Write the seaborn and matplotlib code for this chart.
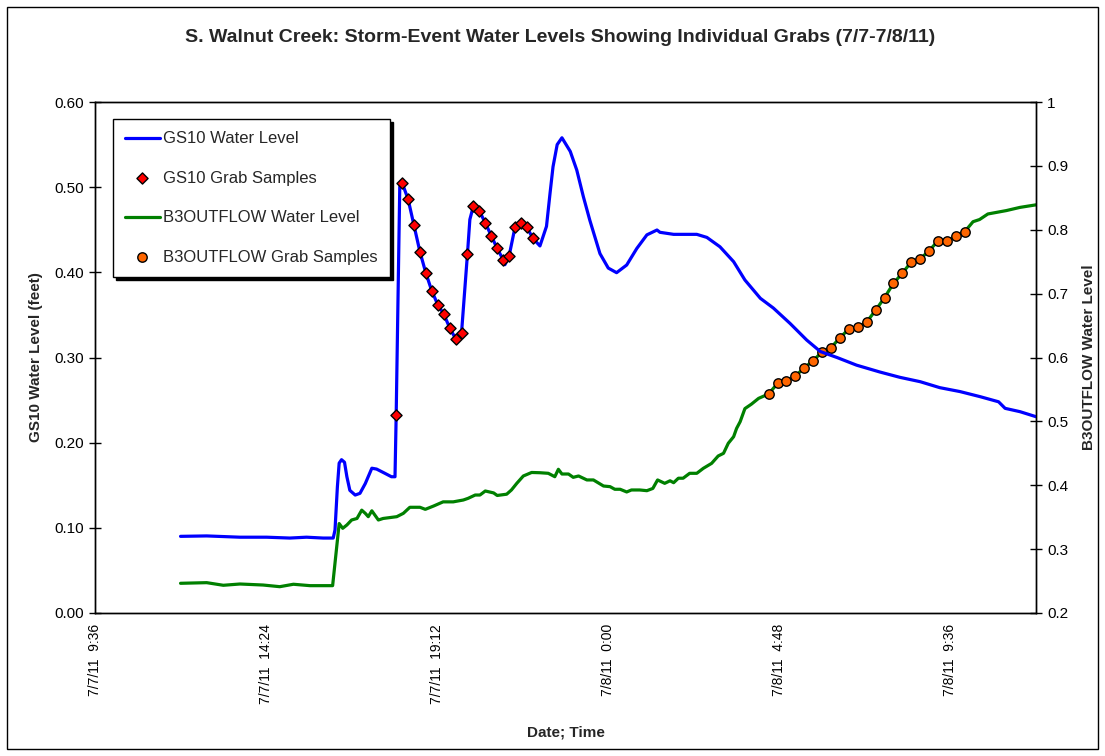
import matplotlib
matplotlib.use("Agg")
import matplotlib.pyplot as plt
from matplotlib.patches import Rectangle
import pandas as pd
import seaborn as sns

sns.set_style("white")
plt.rcParams["font.family"] = ["Liberation Sans", "DejaVu Sans"]

# ---------------- data ----------------
# GS10 continuous water level (feet)
gs10_time = [
    "2011-07-07 12:00", "2011-07-07 12:44", "2011-07-07 13:40", "2011-07-07 14:25",
    "2011-07-07 15:04", "2011-07-07 15:32", "2011-07-07 16:00", "2011-07-07 16:17",
    "2011-07-07 16:20", "2011-07-07 16:24", "2011-07-07 16:27", "2011-07-07 16:31",
    "2011-07-07 16:36", "2011-07-07 16:40", "2011-07-07 16:45", "2011-07-07 16:54",
    "2011-07-07 17:02", "2011-07-07 17:11", "2011-07-07 17:22", "2011-07-07 17:30",
    "2011-07-07 17:44", "2011-07-07 17:55", "2011-07-07 18:01", "2011-07-07 18:03",
    "2011-07-07 18:09", "2011-07-07 18:11", "2011-07-07 18:13", "2011-07-07 18:23",
    "2011-07-07 18:33", "2011-07-07 18:43", "2011-07-07 18:53", "2011-07-07 19:03",
    "2011-07-07 19:13", "2011-07-07 19:23", "2011-07-07 19:33", "2011-07-07 19:43",
    "2011-07-07 19:53", "2011-07-07 20:03", "2011-07-07 20:07", "2011-07-07 20:13",
    "2011-07-07 20:23", "2011-07-07 20:33", "2011-07-07 20:43", "2011-07-07 20:53",
    "2011-07-07 21:03", "2011-07-07 21:06", "2011-07-07 21:13", "2011-07-07 21:23",
    "2011-07-07 21:33", "2011-07-07 21:43", "2011-07-07 21:53", "2011-07-07 22:05",
    "2011-07-07 22:16", "2011-07-07 22:22", "2011-07-07 22:27", "2011-07-07 22:34",
    "2011-07-07 22:42", "2011-07-07 22:56", "2011-07-07 23:07", "2011-07-07 23:18",
    "2011-07-07 23:29", "2011-07-07 23:46", "2011-07-08 00:00", "2011-07-08 00:14",
    "2011-07-08 00:31", "2011-07-08 00:48", "2011-07-08 01:05", "2011-07-08 01:22",
    "2011-07-08 01:27", "2011-07-08 01:50", "2011-07-08 02:29", "2011-07-08 02:46",
    "2011-07-08 03:08", "2011-07-08 03:31", "2011-07-08 03:50", "2011-07-08 04:16",
    "2011-07-08 04:38", "2011-07-08 05:06", "2011-07-08 05:34", "2011-07-08 05:57",
    "2011-07-08 06:25", "2011-07-08 06:58", "2011-07-08 07:37", "2011-07-08 08:11",
    "2011-07-08 08:45", "2011-07-08 09:18", "2011-07-08 09:52", "2011-07-08 10:26",
    "2011-07-08 10:57", "2011-07-08 11:08", "2011-07-08 11:33", "2011-07-08 12:00",
]
gs10_level = [
    0.090, 0.0905, 0.089, 0.089,
    0.088, 0.089, 0.088, 0.088,
    0.0975, 0.148, 0.176, 0.180,
    0.177, 0.160, 0.144, 0.1385,
    0.1405, 0.152, 0.170, 0.169,
    0.164, 0.160, 0.160, 0.233,
    0.500, 0.507, 0.505, 0.486,
    0.455, 0.424, 0.399, 0.378,
    0.362, 0.351, 0.335, 0.322,
    0.329, 0.422, 0.462, 0.478,
    0.472, 0.458, 0.443, 0.428,
    0.415, 0.409, 0.419, 0.453,
    0.4575, 0.453, 0.440, 0.431,
    0.454, 0.493, 0.524, 0.550,
    0.558, 0.542, 0.520, 0.489,
    0.461, 0.422, 0.405, 0.3996,
    0.4086, 0.428, 0.444, 0.4497,
    0.447, 0.4446, 0.4446, 0.441,
    0.430, 0.4125, 0.391, 0.3695,
    0.358, 0.340, 0.3205, 0.307,
    0.300, 0.291, 0.283, 0.2767,
    0.2716, 0.2646, 0.260, 0.254,
    0.248, 0.2403, 0.2364, 0.2305,
]

# GS10 individual grab samples (10-minute interval)
gs10_grab_time = [
    "2011-07-07 18:03", "2011-07-07 18:13", "2011-07-07 18:23", "2011-07-07 18:33",
    "2011-07-07 18:43", "2011-07-07 18:53", "2011-07-07 19:03", "2011-07-07 19:13",
    "2011-07-07 19:23", "2011-07-07 19:33", "2011-07-07 19:43", "2011-07-07 19:53",
    "2011-07-07 20:03", "2011-07-07 20:13", "2011-07-07 20:23", "2011-07-07 20:33",
    "2011-07-07 20:43", "2011-07-07 20:53", "2011-07-07 21:03", "2011-07-07 21:13",
    "2011-07-07 21:23", "2011-07-07 21:33", "2011-07-07 21:43", "2011-07-07 21:53",
]
gs10_grab_level = [
    0.233, 0.505, 0.486, 0.455, 0.424, 0.399, 0.378, 0.362,
    0.351, 0.335, 0.322, 0.329, 0.422, 0.478, 0.472, 0.458,
    0.443, 0.428, 0.415, 0.419, 0.453, 0.4575, 0.453, 0.440,
]

# B3OUTFLOW continuous water level, before and after the grab-sample run
b3_time_before = [
    "2011-07-07 12:00", "2011-07-07 12:44", "2011-07-07 13:12", "2011-07-07 13:40",
    "2011-07-07 14:19", "2011-07-07 14:47", "2011-07-07 15:10", "2011-07-07 15:38",
    "2011-07-07 16:16", "2011-07-07 16:27", "2011-07-07 16:33", "2011-07-07 16:40",
    "2011-07-07 16:48", "2011-07-07 16:57", "2011-07-07 17:05", "2011-07-07 17:11",
    "2011-07-07 17:16", "2011-07-07 17:22", "2011-07-07 17:33", "2011-07-07 17:41",
    "2011-07-07 18:04", "2011-07-07 18:15", "2011-07-07 18:26", "2011-07-07 18:43",
    "2011-07-07 18:52", "2011-07-07 19:06", "2011-07-07 19:22", "2011-07-07 19:39",
    "2011-07-07 19:56", "2011-07-07 20:04", "2011-07-07 20:16", "2011-07-07 20:24",
    "2011-07-07 20:33", "2011-07-07 20:47", "2011-07-07 20:53", "2011-07-07 21:09",
    "2011-07-07 21:17", "2011-07-07 21:26", "2011-07-07 21:37", "2011-07-07 21:51",
    "2011-07-07 22:05", "2011-07-07 22:19", "2011-07-07 22:30", "2011-07-07 22:36",
    "2011-07-07 22:42", "2011-07-07 22:53", "2011-07-07 23:01", "2011-07-07 23:10",
    "2011-07-07 23:24", "2011-07-07 23:35", "2011-07-07 23:52", "2011-07-08 00:03",
    "2011-07-08 00:11", "2011-07-08 00:20", "2011-07-08 00:31", "2011-07-08 00:39",
    "2011-07-08 00:53", "2011-07-08 01:05", "2011-07-08 01:15", "2011-07-08 01:23",
    "2011-07-08 01:35", "2011-07-08 01:44", "2011-07-08 01:50", "2011-07-08 01:58",
    "2011-07-08 02:06", "2011-07-08 02:17", "2011-07-08 02:29", "2011-07-08 02:40",
    "2011-07-08 02:54", "2011-07-08 03:05", "2011-07-08 03:14", "2011-07-08 03:22",
    "2011-07-08 03:31", "2011-07-08 03:36", "2011-07-08 03:42", "2011-07-08 03:50",
    "2011-07-08 04:01", "2011-07-08 04:13",
]
b3_level_before = [
    0.2465, 0.2475, 0.2434, 0.2454,
    0.2438, 0.2412, 0.245, 0.2428,
    0.2428, 0.340, 0.3326, 0.3378,
    0.3456, 0.348, 0.361, 0.356,
    0.3508, 0.360, 0.3456, 0.348,
    0.3508, 0.356, 0.3655, 0.3655,
    0.3623, 0.3675, 0.374, 0.374,
    0.3769, 0.3795, 0.3847, 0.3847,
    0.391, 0.388, 0.384, 0.386,
    0.3926, 0.403, 0.4145, 0.420,
    0.4196, 0.4187, 0.4134, 0.425,
    0.4176, 0.4176, 0.4124, 0.4145,
    0.4083, 0.4083, 0.3988, 0.3978,
    0.3937, 0.3937, 0.3895, 0.3926,
    0.3926, 0.3915, 0.395, 0.4083,
    0.403, 0.407, 0.404, 0.411,
    0.411, 0.4187, 0.4187, 0.4265,
    0.4343, 0.4458, 0.450, 0.4657,
    0.476, 0.489, 0.4995, 0.520,
    0.527, 0.536,
]
b3_time_after = [
    "2011-07-08 10:14", "2011-07-08 10:25", "2011-07-08 10:39",
    "2011-07-08 11:10", "2011-07-08 11:33", "2011-07-08 12:00",
]
b3_level_after = [0.8126, 0.816, 0.8247, 0.830, 0.835, 0.839]

# B3OUTFLOW individual grab samples (15-minute interval)
b3_grab_time = [
    "2011-07-08 04:30", "2011-07-08 04:45", "2011-07-08 05:00", "2011-07-08 05:15",
    "2011-07-08 05:30", "2011-07-08 05:45", "2011-07-08 06:00", "2011-07-08 06:15",
    "2011-07-08 06:30", "2011-07-08 06:45", "2011-07-08 07:00", "2011-07-08 07:15",
    "2011-07-08 07:30", "2011-07-08 07:45", "2011-07-08 08:00", "2011-07-08 08:15",
    "2011-07-08 08:30", "2011-07-08 08:45", "2011-07-08 09:00", "2011-07-08 09:15",
    "2011-07-08 09:30", "2011-07-08 09:45", "2011-07-08 10:00",
]
b3_grab_level = [
    0.543, 0.5596, 0.5637, 0.571, 0.584, 0.595, 0.609, 0.6154,
    0.631, 0.6446, 0.6473, 0.6556, 0.674, 0.6937, 0.716, 0.732,
    0.7495, 0.7547, 0.7667, 0.783, 0.7824, 0.790, 0.797,
]

# axis ticks
x_tick_times = [
    "2011-07-07 09:36", "2011-07-07 14:24", "2011-07-07 19:12",
    "2011-07-08 00:00", "2011-07-08 04:48", "2011-07-08 09:36",
]
x_tick_labels = [
    "7/7/11  9:36", "7/7/11  14:24", "7/7/11  19:12",
    "7/8/11  0:00", "7/8/11  4:48", "7/8/11  9:36",
]
x_limits = ["2011-07-07 09:36", "2011-07-08 12:00"]
left_ticks = [0.0, 0.1, 0.2, 0.3, 0.4, 0.5, 0.6]
left_tick_labels = ["0.00", "0.10", "0.20", "0.30", "0.40", "0.50", "0.60"]
right_ticks = [0.2, 0.3, 0.4, 0.5, 0.6, 0.7, 0.8, 0.9, 1.0]
right_tick_labels = ["0.2", "0.3", "0.4", "0.5", "0.6", "0.7", "0.8", "0.9", "1"]

# ---------------- frames ----------------
gs10 = pd.DataFrame({"time": pd.to_datetime(gs10_time), "level": gs10_level})
gs10_grab = pd.DataFrame({"time": pd.to_datetime(gs10_grab_time), "level": gs10_grab_level})
b3 = pd.DataFrame({
    "time": pd.to_datetime(b3_time_before + b3_grab_time + b3_time_after),
    "level": b3_level_before + b3_grab_level + b3_level_after,
})
b3_grab = pd.DataFrame({"time": pd.to_datetime(b3_grab_time), "level": b3_grab_level})

BLUE = "#0000FF"
GREEN = "#008000"
RED = "#FF0000"
ORANGE = "#FF6600"

# ---------------- figure ----------------
fig = plt.figure(figsize=(11.05, 7.56), dpi=100)
fig.patch.set_facecolor("white")
ax = fig.add_axes([95 / 1105, 1 - 613 / 756, (1036 - 95) / 1105, (613 - 102) / 756])
ax2 = ax.twinx()

sns.lineplot(data=b3, x="time", y="level", ax=ax2, color=GREEN, linewidth=2.3,
             label="B3OUTFLOW Water Level", legend=False, zorder=2)
sns.scatterplot(data=b3_grab, x="time", y="level", ax=ax2, color=ORANGE, marker="o",
                s=46, edgecolor="black", linewidth=1.0, label="B3OUTFLOW Grab Samples",
                legend=False, zorder=3)
sns.lineplot(data=gs10, x="time", y="level", ax=ax, color=BLUE, linewidth=2.3,
             label="GS10 Water Level", legend=False, zorder=2)
sns.scatterplot(data=gs10_grab, x="time", y="level", ax=ax, color=RED, marker="D",
                s=32, edgecolor="black", linewidth=1.0, label="GS10 Grab Samples",
                legend=False, zorder=3)

# left axes (GS10) drawn on top of the twin
ax.set_zorder(ax2.get_zorder() + 1)
ax.patch.set_visible(False)

xl = pd.to_datetime(x_limits)
ax.set_xlim(xl[0], xl[1])
ax.set_ylim(0, 0.6)
ax2.set_ylim(0.2, 1.0)

ax.set_xticks(pd.to_datetime(x_tick_times))
ax.set_xticklabels(x_tick_labels, rotation=90, fontsize=10)
ax.set_yticks(left_ticks)
ax.set_yticklabels(left_tick_labels, fontsize=11)
ax2.set_yticks(right_ticks)
ax2.set_yticklabels(right_tick_labels, fontsize=11)

for a in (ax, ax2):
    a.tick_params(direction="inout", length=8, width=1, color="black", labelcolor="black")
    for sp in a.spines.values():
        sp.set_color("black")
        sp.set_linewidth(1.0)
    a.grid(False)
ax.tick_params(axis="x", pad=4)
ax.tick_params(axis="y", pad=4)
ax2.tick_params(axis="y", pad=4)

ax.set_xlabel("Date; Time", fontsize=11, fontweight="bold")
ax.xaxis.set_label_coords(0.5, -0.221)
ax.set_ylabel("GS10 Water Level (feet)", fontsize=11, fontweight="bold")
ax.yaxis.set_label_coords(-0.0555, 0.5)
ax2.set_ylabel("B3OUTFLOW Water Level", fontsize=11, fontweight="bold", rotation=90)
ax2.yaxis.set_label_coords(1.049, 0.5)

fig.text(560 / 1105, 1 - 38 / 756,
         "S. Walnut Creek: Storm-Event Water Levels Showing Individual Grabs (7/7-7/8/11)",
         ha="center", va="center", fontsize=14, fontweight="bold")

# legend combining both axes
h1, l1 = ax.get_legend_handles_labels()
h2, l2 = ax2.get_legend_handles_labels()
handles = dict(zip(l1 + l2, h1 + h2))
order = ["GS10 Water Level", "GS10 Grab Samples", "B3OUTFLOW Water Level", "B3OUTFLOW Grab Samples"]
leg = ax.legend([handles[k] for k in order], order, loc="upper left",
                bbox_to_anchor=(0.019, 0.967), borderaxespad=0, fontsize=12,
                frameon=True, fancybox=False, edgecolor="black", facecolor="white",
                framealpha=1, labelspacing=1.47, handlelength=2.05, handletextpad=0.2,
                borderpad=0.75, scatterpoints=1,
                shadow={"color": "black", "alpha": 1})
leg.get_frame().set_linewidth(1.0)

# outer chart border
fig.patches.append(Rectangle((7 / 1105, 7 / 756), 1091 / 1105, 742 / 756,
                             transform=fig.transFigure, fill=False,
                             edgecolor="black", linewidth=1.0))

fig.savefig("out.png", dpi=100)
